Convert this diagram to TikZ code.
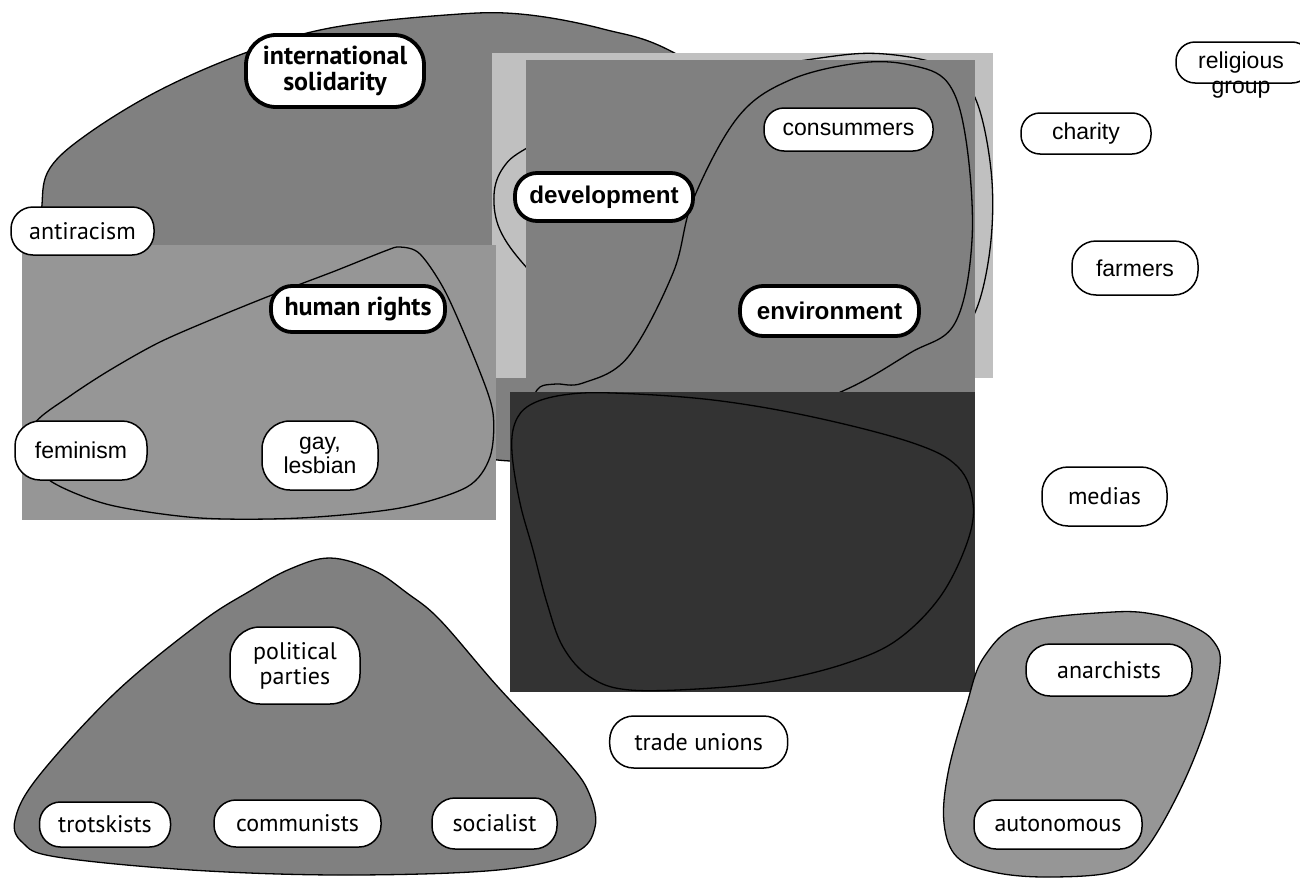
\documentclass[tikz,border=0pt]{standalone}
\usepackage{fontspec}
\newfontfamily\arialf{Liberation Sans}
\newfontfamily\frutf{PT Sans}
\definecolor{gA}{HTML}{808080}
\definecolor{gB}{HTML}{C0C0C0}
\definecolor{gE}{HTML}{969696}
\definecolor{gD}{HTML}{333333}
\begin{document}
\begin{tikzpicture}[x=1pt,y=-1pt,
  blob/.style={draw=black,line width=1.3pt},
  pill/.style n args={3}{draw=black,fill=white,line width=1.5pt,minimum width=#1pt,minimum height=#2pt,rounded corners=#3pt,inner sep=0pt,align=center,text=black},
  bpill/.style n args={3}{pill={#1}{#2}{#3},line width=3.8pt},
  ftA/.style={font=\arialf\fontsize{23}{24}\selectfont},
  ftAb/.style={font=\arialf\bfseries\fontsize{24.2}{25}\selectfont},
  ftP/.style={font=\frutf\fontsize{24}{25}\selectfont},
  ftPb/.style={font=\frutf\bfseries\fontsize{26}{25.5}\selectfont},
]
\useasboundingbox (0,0) rectangle (1300,878);
\fill[white] (0,0) rectangle (1300,878);

% international solidarity blob
\draw[blob,fill=gA] plot[smooth cycle,tension=0.6] coordinates {(42,205) (50,168) (89,133) (160,90) (245,53) (330,28) (446,15) (520,14) (603,29) (680,56) (820,150) (880,290) (800,420) (620,455) (510,461) (440,445) (300,400) (120,330) (45,250)};

% development area
\fill[gB] (492,53) rectangle (993,378);
\draw[blob] plot[smooth cycle,tension=0.6] coordinates {(527,148) (503,168) (494,195) (500,230) (527,268) (580,320) (680,365) (800,376) (920,362) (955,340) (978,305) (991,240) (991,170) (976,100) (948,68) (885,54) (820,58) (700,80) (600,112)};

% environment area
\fill[gA] (526,60) rectangle (975,392);
\draw[blob] plot[smooth cycle,tension=0.6] coordinates {(534,400) (540,387) (556,384) (583,383) (628,357) (673,273) (693,200) (738,117) (790,80) (859,63) (910,65) (948,83) (966,140) (972,240) (955,323) (910,353) (845,390) (760,420) (620,420) (545,415)};

% human rights area
\fill[gE] (22,245) rectangle (496,520);
\draw[blob] plot[smooth cycle,tension=0.5] coordinates {(400,247) (420,254) (446,293) (478,367) (493,413) (490,457) (467,487) (400,508) (300,518) (200,518) (110,505) (52,482) (30,455) (35,423) (70,396) (110,370) (160,342) (220,316) (277,293) (335,271) (385,251)};

% dark area
\fill[gD] (510,392) rectangle (975,692);
\draw[blob] plot[smooth cycle,tension=0.6] coordinates {(530,405) (563,395) (613,393) (713,400) (813,417) (913,443) (958,467) (973,503) (967,543) (940,597) (897,640) (847,663) (780,680) (713,688) (630,690) (590,677) (563,647) (547,603) (533,550) (520,503) (512,453) (515,423)};

% political parties blob
\draw[blob,fill=gA] plot[smooth cycle,tension=0.6] coordinates {(330,558) (373,570) (407,593) (440,620) (498,687) (566,760) (589,793) (595,827) (574,853) (498,870) (344,875) (191,870) (57,857) (23,843) (15,820) (38,777) (115,693) (200,623) (250,591) (290,569)};

% anarchists blob
\draw[blob,fill=gE] plot[smooth cycle,tension=0.6] coordinates {(1113,612) (1158,615) (1194,627) (1214,642) (1220,665) (1207,723) (1180,790) (1145,850) (1113,872) (1046,877) (993,872) (957,857) (944,823) (948,773) (966,707) (984,657) (1024,623)};

% nodes
\node[bpill={178}{72}{30},ftPb] (intsol) at (335,71) {international\\solidarity};
\node[pill={143}{48}{22},ftP] (antirac) at (82.5,231) {antiracism};
\node[bpill={174}{46}{21},ftPb] (hr) at (358,309) {human rights};
\node[bpill={178}{48}{22},ftAb] (dev) at (604,197) {development};
\node[pill={169}{43}{20},ftA] (cons) at (848.5,129.5) {consummers};
\node[bpill={179}{50}{23},ftAb] (env) at (829.5,311) {environment};
\node[pill={132}{59}{25},ftA] (fem) at (81,450.5) {feminism};
\node[pill={116}{69}{28},ftA] (gay) at (320,455.5) {gay,\\lesbian};
\node[pill={135}{41}{19}] (relig) at (1243.5,62.5) {};
\node[ftA,anchor=base] (religA) at (1241,68) {religious};
\node[ftA,anchor=base] (religB) at (1241,93) {group};
\node[pill={130}{41}{19},ftA] (charity) at (1086,133.5) {charity};
\node[pill={126}{54}{24},ftA] (farm) at (1135,268) {farmers};
\node[pill={125}{59}{26},ftP] (med) at (1104.5,496.5) {medias};
\node[pill={166}{52}{24},ftP] (anar) at (1109,670) {anarchists};
\node[pill={168}{49}{22},ftP] (auto) at (1058,824.5) {autonomous};
\node[pill={178}{52}{24},ftP] (trade) at (698.7,742) {trade unions};
\node[pill={130}{77}{30},ftP] (pol) at (295,665.5) {political\\parties};
\node[pill={131}{45}{21},ftP] (trot) at (105,824.5) {trotskists};
\node[pill={167}{47}{22},ftP] (comm) at (297.5,823.5) {communists};
\node[pill={125}{51}{23},ftP] (soc) at (494.5,823.5) {socialist};
\end{tikzpicture}
\end{document}
